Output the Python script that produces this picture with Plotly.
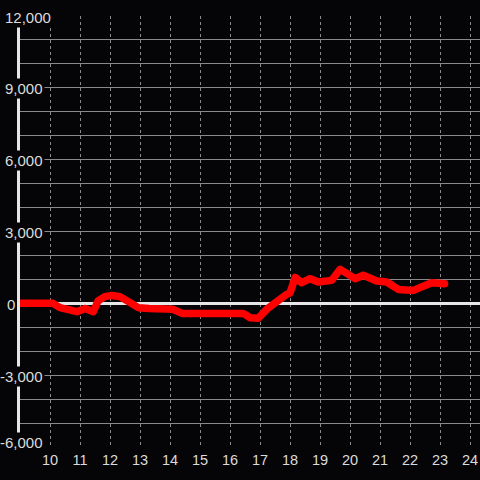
import plotly.graph_objects as go

# hour of day vs. running value
hours = [9, 10.1, 10.33, 10.5, 10.9, 11.17, 11.44, 11.6, 11.83, 12.06, 12.33, 12.67,
         12.94, 13.3, 13.67, 14.1, 14.4, 15, 15.5, 16, 16.44, 16.67, 16.94, 17.22,
         17.56, 17.89, 18.0, 18.17, 18.39, 18.67, 18.94, 19.39, 19.67, 19.89, 20.17,
         20.44, 20.89, 21.22, 21.61, 22.11, 22.33, 22.72, 23.15]
values = [0, 0, -180, -250, -350, -220, -350, 100, 280, 330, 280, 30,
          -180, -220, -220, -250, -420, -420, -420, -420, -420, -600, -625, -250,
          100, 375, 440, 1080, 860, 1030, 890, 960, 1420, 1280, 1030,
          1170, 930, 890, 580, 540, 650, 860, 820]

x_ticks = list(range(10, 25))
y_ticks = [12000, 9000, 6000, 3000, 0, -3000, -6000]

BG = "#050507"
GRID = "#8a8a8a"
AXIS = "#e6e6e6"
TEXT = "#dcdcdc"

fig = go.Figure()

fig.add_trace(go.Scatter(
    x=hours, y=values, mode="lines",
    line=dict(color="#ff0000", width=7.5),
    hoverinfo="skip", showlegend=False,
))

fig.update_layout(
    width=480, height=480,
    margin=dict(l=20, r=0, t=16, b=33),
    paper_bgcolor=BG, plot_bgcolor=BG,
    font=dict(family="Liberation Sans, Arial, sans-serif", size=14.5, color=TEXT),
    showlegend=False,
)

fig.update_xaxes(
    range=[9, 24.33],
    tickvals=x_ticks,
    showgrid=True, gridcolor=GRID, gridwidth=1, griddash="3px,3px",
    zeroline=False, showline=False,
    ticks="", ticklabelstandoff=2,
)

fig.update_yaxes(
    range=[-6000, 12000],
    dtick=1000, tick0=0,
    showgrid=True, gridcolor=GRID, gridwidth=1,
    zeroline=True, zerolinecolor=AXIS, zerolinewidth=3,
    showline=True, linecolor=AXIS, linewidth=3,
    showticklabels=False, ticks="",
)

# y labels sit on top of the axis line with a dark box behind them,
# mostly right-aligned a little past the axis
for v in y_ticks:
    if v == 12000:
        dx = 33
    elif v == 0:
        dx = -3
    else:
        dx = 25
    fig.add_annotation(
        x=0, xref="paper", xanchor="right", xshift=dx,
        y=v, yref="y", yanchor="middle",
        yshift=5 if v == y_ticks[-1] else -1,
        text=f"{v:,}", showarrow=False,
        bgcolor=BG, borderpad=1,
        font=dict(size=15, color=TEXT),
    )

# round the line ends/joins and drop the default page margin
post = """
document.body.style.margin='0';
document.querySelectorAll('.scatterlayer path.js-line').forEach(function(p){
  p.style.strokeLinecap='round'; p.style.strokeLinejoin='round';
});
"""
fig.write_html("out.html", post_script=post, config={"displayModeBar": False})
